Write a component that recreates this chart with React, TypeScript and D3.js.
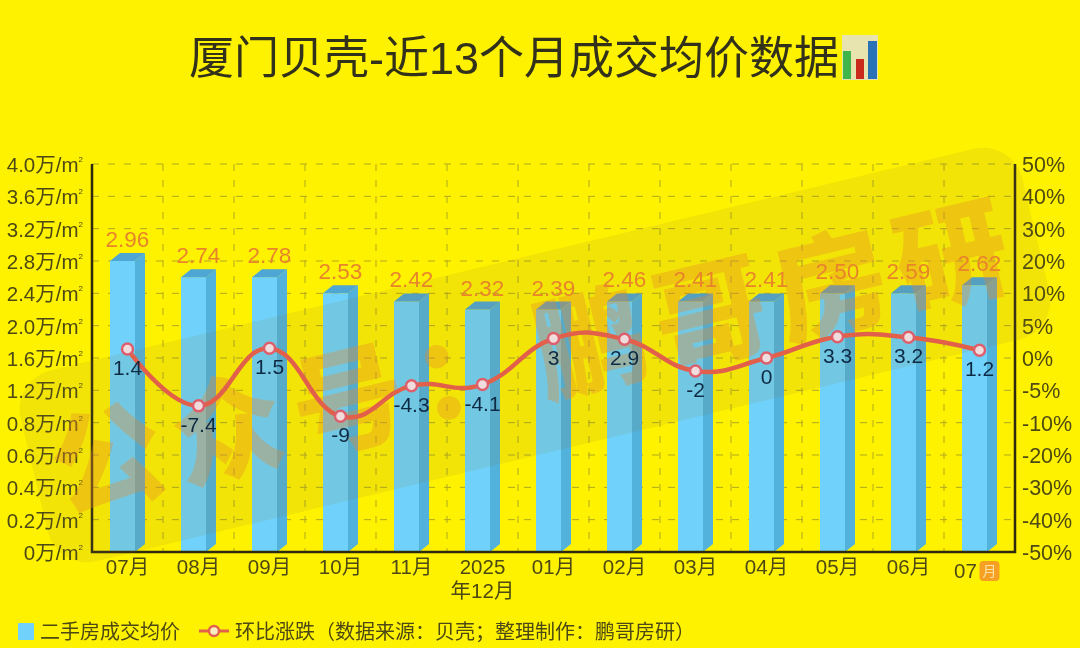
import React from "react";
import * as d3 from "d3";

const months = ["07月", "08月", "09月", "10月", "11月", "2025|年12月", "01月", "02月", "03月", "04月", "05月", "06月", "07"];
// price labels printed above the bars
const priceLabels = ["2.96", "2.74", "2.78", "2.53", "2.42", "2.32", "2.39", "2.46", "2.41", "2.41", "2.50", "2.59", "2.62"];
// drawn bar heights read against the left axis
const barHeights = [2.8, 2.6, 2.6, 2.4, 2.3, 2.2, 2.2, 2.3, 2.3, 2.3, 2.4, 2.4, 2.5];
const changes = [1.4, -7.4, 1.5, -9, -4.3, -4.1, 3, 2.9, -2, 0, 3.3, 3.2, 1.2];

// both axes have uneven steps
const priceTicks = [0, 0.2, 0.4, 0.6, 0.8, 1.2, 1.6, 2.0, 2.4, 2.8, 3.2, 3.6, 4.0];
const priceTickLabels = ["0", "0.2", "0.4", "0.6", "0.8", "1.2", "1.6", "2.0", "2.4", "2.8", "3.2", "3.6", "4.0"];
const pctTicks = [-50, -40, -30, -20, -10, -5, 0, 5, 10, 20, 30, 40, 50];

const FONT = "'Noto Sans CJK SC', 'Noto Sans', sans-serif";
const LATIN = "'Liberation Sans', 'Noto Sans CJK SC', sans-serif";
const W = 1080;
const H = 648;
const plot = { left: 92, right: 1015, top: 164, bottom: 552 };

const TEXT = "#4d4912";
const AXIS = "#2e2b10";
const GRID = "#b0a822";

const even = (n: number) => d3.range(n).map((i) => plot.bottom - (i * (plot.bottom - plot.top)) / (n - 1));
const yPrice = d3.scaleLinear().domain(priceTicks).range(even(priceTicks.length));
const yPct = d3.scaleLinear().domain(pctTicks).range(even(pctTicks.length));
const x = d3.scaleBand<number>().domain(d3.range(months.length)).range([plot.left, plot.right]);

const FRONT_W = 25;
const SIDE_W = 10;
const SIDE_H = 8;

export default function App() {
  const cx = (i: number) => x(i)! + x.bandwidth() / 2;

  const linePath = d3
    .line<number>()
    .x((_, i) => cx(i))
    .y((d) => yPct(d))
    .curve(d3.curveCardinal.tension(-0.3))(changes);

  return (
    <svg
      width={W}
      height={H}
      viewBox={`0 0 ${W} ${H}`}
      style={{ position: "absolute", left: 0, top: 0, display: "block" }}
    >
      <defs>
        <filter id="soft" x="0" y="0" width="100%" height="100%">
          <feGaussianBlur stdDeviation="0.4" />
        </filter>
      </defs>
      <rect width={W} height={H} fill="#fff200" />
      <g filter="url(#soft)">
        <text x={514} y={74} textAnchor="middle" fontFamily={LATIN} fontSize={45} fill="#33301a">
          厦门贝壳-近13个月成交均价数据
        </text>
        {/* little chart emoji after the title */}
        <g>
          <rect x={842} y={35} width={36} height={45} fill="#e8e4b0" />
          <rect x={843} y={51} width={8} height={28} fill="#3fb54a" />
          <rect x={856} y={59} width={8} height={20} fill="#c9291e" />
          <rect x={868} y={41} width={9} height={38} fill="#2a72b8" />
        </g>

        {/* grid */}
        {priceTicks.slice(1).map((t) => (
          <line
            key={t}
            x1={plot.left}
            x2={plot.right}
            y1={yPrice(t)}
            y2={yPrice(t)}
            stroke={GRID}
            strokeWidth={1}
            strokeDasharray="7 9"
          />
        ))}
        {d3.range(1, months.length).map((i) => (
          <line
            key={i}
            x1={x(i)!}
            x2={x(i)!}
            y1={plot.top}
            y2={plot.bottom}
            stroke={GRID}
            strokeWidth={1}
            strokeDasharray="7 9"
          />
        ))}

        {/* 3d bars */}
        {barHeights.map((v, i) => {
          const x0 = cx(i) - (FRONT_W + SIDE_W) / 2;
          const x1 = x0 + FRONT_W;
          const top = yPrice(v);
          return (
            <g key={i}>
              <rect x={x0} y={top} width={FRONT_W} height={plot.bottom - top} fill="#70d2fa" />
              <polygon
                points={`${x1},${top} ${x1 + SIDE_W},${top - SIDE_H} ${x1 + SIDE_W},${plot.bottom - SIDE_H} ${x1},${plot.bottom}`}
                fill="#52b2dc"
              />
              <polygon
                points={`${x0},${top} ${x1},${top} ${x1 + SIDE_W},${top - SIDE_H} ${x0 + SIDE_W},${top - SIDE_H}`}
                fill="#4ea6d4"
              />
            </g>
          );
        })}

        {/* axes */}
        <path
          d={`M${plot.left},${plot.top}V${plot.bottom}H${plot.right}V${plot.top}`}
          fill="none"
          stroke={AXIS}
          strokeWidth={2.5}
        />
        {priceTicks.map((t, i) => (
          <text
            key={t}
            x={83}
            y={yPrice(t) + 8}
            textAnchor="end"
            fontFamily={LATIN}
            fontSize={20.5}
            fill={TEXT}
          >
            {priceTickLabels[i]}万/m
            <tspan fontSize={8} dy={-10}>2</tspan>
          </text>
        ))}
        {pctTicks.map((t) => (
          <text key={t} x={1022} y={yPct(t) + 8} fontFamily={LATIN} fontSize={21.5} fill={TEXT}>
            {t}%
          </text>
        ))}
        {months.map((m, i) => {
          const parts = m.split("|");
          if (i === months.length - 1) {
            // last month carries an emoji style badge
            return (
              <g key={i}>
                <text x={cx(i) - 14} y={578} textAnchor="middle" fontFamily={LATIN} fontSize={20.5} fill={TEXT}>
                  {m}
                </text>
                <rect x={cx(i)} y={561} width={20} height={20} rx={4} fill="#f5a020" />
                <text x={cx(i) + 10} y={576} textAnchor="middle" fontFamily={FONT} fontSize={14} fill="#fde2a8">
                  月
                </text>
              </g>
            );
          }
          return (
            <text key={i} textAnchor="middle" fontFamily={LATIN} fontSize={20.5} fill={TEXT}>
              {parts.map((p, j) => (
                <tspan key={j} x={cx(i)} y={574 + j * 24}>
                  {p}
                </tspan>
              ))}
            </text>
          );
        })}

        {/* legend */}
        <rect x={18} y={623} width={16} height={17} rx={1} fill="#70d2fa" />
        <text x={40} y={639} fontFamily={FONT} fontSize={20} fill={TEXT}>
          二手房成交均价
        </text>
        <line x1={199} x2={229} y1={631} y2={631} stroke="#e2624a" strokeWidth={3} />
        <circle cx={214} cy={631} r={5} fill="#f8ecc0" stroke="#e2624a" strokeWidth={2.5} />
        <text x={235} y={639} fontFamily={FONT} fontSize={20} fill={TEXT}>
          环比涨跌（数据来源：贝壳；整理制作：鹏哥房研）
        </text>

        {/* watermark goes over the bars, labels and line stay readable above it */}
        <g transform="translate(535,355) rotate(-13.5)">
          <rect x={-515} y={-98} width={1030} height={196} rx={40} fill="#8a7a30" opacity={0.11} />
          <text
            x={0}
            y={42}
            textAnchor="middle"
            fontFamily={FONT}
            fontWeight={900}
            fontSize={112}
            letterSpacing={12}
            fill="#e88a2a"
            opacity={0.34}
          >
            公众号：鹏哥房研
          </text>
        </g>

        {/* month on month line */}
        <path d={linePath!} fill="none" stroke="#e2604a" strokeWidth={4.5} strokeLinecap="round" />
        {changes.map((c, i) => (
          <g key={i}>
            <circle cx={cx(i)} cy={yPct(c)} r={5.5} fill="#f0dcdc" stroke="#de5f6c" strokeWidth={2.5} />
            <text
              x={cx(i)}
              y={yPct(c) + 26}
              textAnchor="middle"
              fontFamily={LATIN}
              fontSize={21}
              fill="#102a45"
            >
              {c}
            </text>
          </g>
        ))}
        {priceLabels.map((p, i) => (
          <text
            key={i}
            x={cx(i)}
            y={yPrice(barHeights[i]) - 14}
            textAnchor="middle"
            fontFamily={LATIN}
            fontSize={22.5}
            fill="#e8842c"
          >
            {p}
          </text>
        ))}
      </g>
    </svg>
  );
}
